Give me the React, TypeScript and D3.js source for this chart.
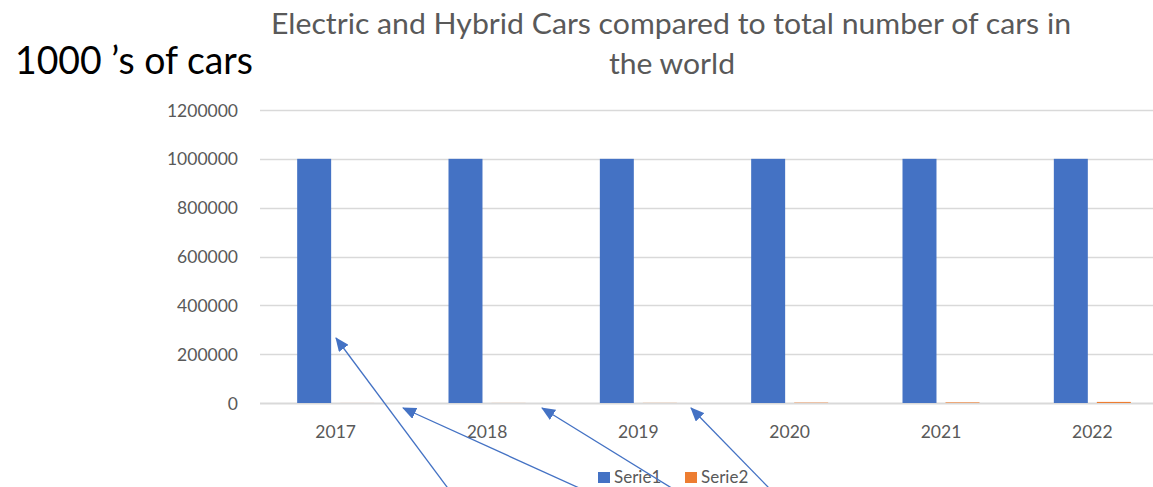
import * as d3 from 'd3';

// chart values
const years = ['2017', '2018', '2019', '2020', '2021', '2022'];
const serie1 = [1000000, 1000000, 1000000, 1000000, 1000000, 1000000];
const serie2 = [200, 300, 500, 1500, 2500, 4500];
const seriesNames = ['Serie1', 'Serie2'];
const yTicks = [0, 200000, 400000, 600000, 800000, 1000000, 1200000];

// annotation arrows drawn over the chart (start off the bottom, tip at the chart)
const arrows = [
    { x1: 447, y1: 487, x2: 336, y2: 338 },
    { x1: 577, y1: 487, x2: 403, y2: 408 },
    { x1: 670, y1: 487, x2: 542, y2: 408 },
    { x1: 768, y1: 487, x2: 691, y2: 408 },
];

const W = 1153;
const H = 487;
const FONT = 'Lato, "Open Sans", sans-serif';
const BLUE = '#4472C4';
const ORANGE = '#ED7D31';
const GRID = '#D9D9D9';
const TEXT = '#595959';

export default function App() {
    const plot = { left: 260, right: 1168, top: 110, bottom: 403 };

    const x0 = d3.scaleBand<string>().domain(years).range([plot.left, plot.right]);
    const groupW = 77;
    const x1 = d3.scaleBand<string>().domain(seriesNames).range([0, groupW]).paddingInner(0.21);
    const y = d3.scaleLinear().domain([0, 1200000]).range([plot.bottom, plot.top]);

    const colors = d3.scaleOrdinal<string, string>().domain(seriesNames).range([BLUE, ORANGE]);
    const values = [serie1, serie2];

    return (
        <svg
            width={W}
            height={H}
            style={{ position: 'absolute', left: 0, top: 0, background: '#fff', overflow: 'hidden' }}
            fontFamily={FONT}
        >
            <defs>
                <marker
                    id='head'
                    viewBox='0 0 14 12'
                    refX={13}
                    refY={6}
                    markerWidth={14}
                    markerHeight={12}
                    markerUnits='userSpaceOnUse'
                    orient='auto'
                >
                    <path d='M0,0 L14,6 L0,12 Z' fill={BLUE} />
                </marker>
            </defs>

            <text x={671} y={34} textAnchor='middle' fontSize={28} fill={TEXT} textLength={800} lengthAdjust='spacingAndGlyphs'>
                Electric and Hybrid Cars compared to total number of cars in
            </text>
            <text x={672} y={74} textAnchor='middle' fontSize={28} fill={TEXT} textLength={126} lengthAdjust='spacingAndGlyphs'>
                the world
            </text>

            <text x={15} y={74} fontSize={38} fill='#000' textLength={238} lengthAdjust='spacingAndGlyphs'>
                1000 ’s of cars
            </text>

            {/* gridlines + y labels */}
            {yTicks.map((t) => (
                <g key={t}>
                    <line
                        x1={plot.left}
                        x2={W}
                        y1={Math.round(y(t)) + 0.5}
                        y2={Math.round(y(t)) + 0.5}
                        stroke={GRID}
                        strokeWidth={t === 0 ? 2 : 1.5}
                    />
                    <text x={238} y={y(t) + 6.5} textAnchor='end' fontSize={17.5} fill={TEXT}>
                        {t}
                    </text>
                </g>
            ))}

            {/* bars */}
            {years.map((yr, i) => {
                const gx = x0(yr)! + (x0.bandwidth() - groupW) / 2;
                return (
                    <g key={yr}>
                        {seriesNames.map((s, j) => (
                            <rect
                                key={s}
                                x={gx + x1(s)!}
                                y={y(values[j][i])}
                                width={x1.bandwidth()}
                                height={plot.bottom - y(values[j][i])}
                                fill={colors(s)}
                            />
                        ))}
                        <text
                            x={x0(yr)! + x0.bandwidth() / 2}
                            y={438}
                            textAnchor='middle'
                            fontSize={17.5}
                            fill={TEXT}
                        >
                            {yr}
                        </text>
                    </g>
                );
            })}

            {/* legend */}
            <g>
                <rect x={598} y={472} width={12} height={11} fill={BLUE} />
                <text x={614} y={483} fontSize={17} fill={TEXT}>Serie1</text>
                <rect x={685} y={472} width={12} height={11} fill={ORANGE} />
                <text x={701} y={483} fontSize={17} fill={TEXT}>Serie2</text>
            </g>

            {/* annotation arrows */}
            {arrows.map((a, i) => (
                <line
                    key={i}
                    x1={a.x1 + (a.x1 - a.x2) * 0.1}
                    y1={a.y1 + (a.y1 - a.y2) * 0.1}
                    x2={a.x2}
                    y2={a.y2}
                    stroke={BLUE}
                    strokeWidth={1.3}
                    markerEnd='url(#head)'
                />
            ))}
        </svg>
    );
}
